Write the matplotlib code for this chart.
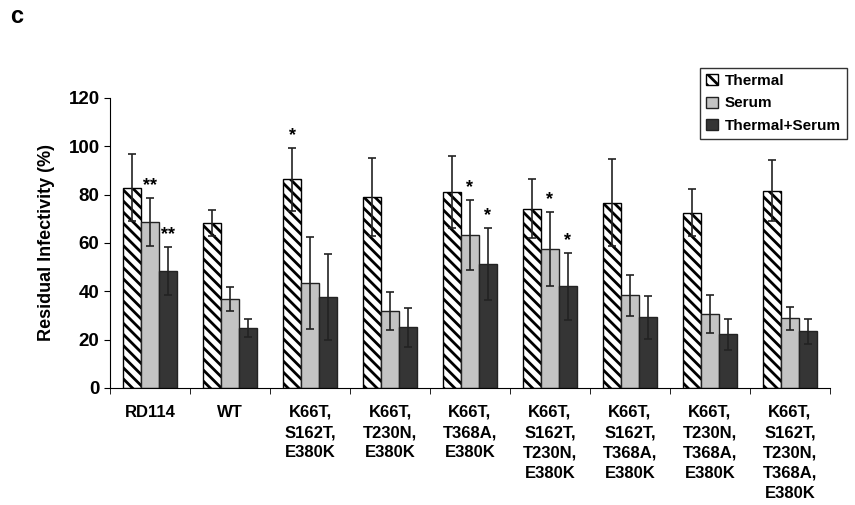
import numpy as np
import matplotlib
matplotlib.use("Agg")
from matplotlib import pyplot as plt

plt.rcParams['font.family'] = ['Liberation Sans', 'DejaVu Sans']
plt.rcParams['hatch.linewidth'] = 2.0

# donnees
groupes = ['RD114', 'WT', 'K66T,\nS162T,\nE380K', 'K66T,\nT230N,\nE380K',
           'K66T,\nT368A,\nE380K', 'K66T,\nS162T,\nT230N,\nE380K',
           'K66T,\nS162T,\nT368A,\nE380K', 'K66T,\nT230N,\nT368A,\nE380K',
           'K66T,\nS162T,\nT230N,\nT368A,\nE380K']
thermal     = [82.9, 68.4, 86.3, 79.0, 81.1, 74.2, 76.7, 72.5, 81.6]
thermal_err = [14.0, 5.4, 13.0, 16.0, 15.0, 12.3, 18.0, 9.8, 12.7]
serum       = [68.8, 36.8, 43.6, 31.9, 63.3, 57.4, 38.3, 30.5, 28.8]
serum_err   = [10.0, 4.8, 19.0, 8.0, 14.5, 15.4, 8.5, 7.8, 4.6]
ts          = [48.4, 24.8, 37.5, 25.1, 51.4, 42.0, 29.2, 22.2, 23.4]
ts_err      = [10.0, 3.6, 17.8, 8.0, 15.0, 13.8, 9.0, 6.5, 5.0]
etoiles_thermal = ['', '', '*', '', '', '', '', '', '']
etoiles_serum   = ['**', '', '', '', '*', '*', '', '', '']
etoiles_ts      = ['**', '', '', '', '*', '*', '', '', '']

x = np.arange(len(groupes))
w = 0.225

fig = plt.figure(figsize=(8.55, 5.05), dpi=100)
ax = fig.add_axes([0.1287, 0.2317, 0.842, 0.5743])

err_kw = dict(ecolor='#222222', elinewidth=1.2, capsize=3, capthick=1.2)
b1 = ax.bar(x - w, thermal, w, color='white', edgecolor='black', hatch='\\\\\\',
            linewidth=1.0, yerr=thermal_err, error_kw=err_kw, label='Thermal')
b2 = ax.bar(x, serum, w, color='#c3c3c3', edgecolor='#222222',
            linewidth=1.0, yerr=serum_err, error_kw=err_kw, label='Serum')
b3 = ax.bar(x + w, ts, w, color='#353535', edgecolor='#222222',
            linewidth=1.0, yerr=ts_err, error_kw=err_kw, label='Thermal+Serum')

for vals, errs, stars, dx in [(thermal, thermal_err, etoiles_thermal, -w),
                              (serum, serum_err, etoiles_serum, 0),
                              (ts, ts_err, etoiles_ts, w)]:
    for i in range(len(groupes)):
        if stars[i]:
            ax.text(x[i] + dx, vals[i] + errs[i] + 1.5, stars[i], ha='center',
                    va='bottom', fontsize=13, fontweight='bold')

ax.set_xlim(-0.5, len(groupes) - 0.5)
ax.set_ylim(0, 120)
ax.set_yticks(np.arange(0, 121, 20))
ax.set_xticks(x)
ax.set_xticklabels(groupes, fontsize=12, fontweight='bold', linespacing=1.45)
ax.set_xticks(np.arange(-0.5, len(groupes), 1.0), minor=True)
ax.tick_params(axis='x', which='major', length=0, pad=12)
ax.tick_params(axis='x', which='minor', length=4, direction='out')
ax.tick_params(axis='y', labelsize=13.5, length=4)
for lab in ax.get_yticklabels():
    lab.set_fontweight('bold')
ax.spines['top'].set_visible(False)
ax.spines['right'].set_visible(False)
ax.set_ylabel('Residual Infectivity (%)', fontsize=13, fontweight='bold', labelpad=10)

leg = ax.legend(loc='upper right', bbox_to_anchor=(1.0236, 1.1034), borderaxespad=0,
                fancybox=False, edgecolor='black', handlelength=0.75, handleheight=0.75,
                handletextpad=0.45, labelspacing=0.55, borderpad=0.4,
                prop={'weight': 'bold', 'size': 11})
leg.get_frame().set_linewidth(1.0)

fig.text(0.012, 0.955, 'c', fontsize=17, fontweight='bold')

fig.savefig('out.png', dpi=100)
